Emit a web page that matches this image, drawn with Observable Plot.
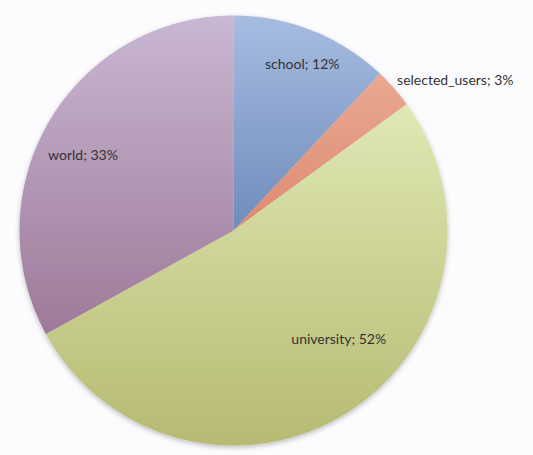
<!DOCTYPE html>
<html>
<head>
<meta charset="utf-8">
<script src="https://cdn.jsdelivr.net/npm/d3@7"></script>
<script src="https://cdn.jsdelivr.net/npm/@observablehq/plot@0.6"></script>
<style>
  html, body { margin: 0; padding: 0; background: #fcfcfe; }
  #chart svg { display: block; background: #fcfcfe; }
</style>
</head>
<body>
<div id="chart"></div>
<script>
// Data
const categories = ["school", "selected_users", "university", "world"];
const percents = [12, 3, 52, 33];
const labels = ["school; 12%", "selected_users; 3%", "university; 52%", "world; 33%"];

// Gradient colours (top -> bottom) per slice
const gradTop = ["#a7bce1", "#eaa892", "#e0e8b4", "#c9b7d3"];
const gradBottom = ["#6f8cbb", "#dd8a70", "#b6ba72", "#9d7a98"];

const pie = d3.pie().sort(null).value(d => d.value).startAngle(0).endAngle(2 * Math.PI);
const arcs = pie(categories.map((c, i) => ({category: c, value: percents[i], label: labels[i]})));

// polygon vertices for each slice, in unit-circle data space (y up)
const pts = [];
for (const a of arcs) {
  const c = a.data.category;
  pts.push({category: c, x: 0, y: 0});
  const n = Math.max(2, Math.ceil((a.endAngle - a.startAngle) / (Math.PI / 360)));
  for (let k = 0; k <= n; k++) {
    const t = a.startAngle + (a.endAngle - a.startAngle) * k / n;
    pts.push({category: c, x: Math.sin(t), y: Math.cos(t)});
  }
}

// label anchors at the slice mid-angle
function labelPos(a, r) {
  const m = (a.startAngle + a.endAngle) / 2;
  return {label: a.data.label, category: a.data.category, x: r * Math.sin(m), y: r * Math.cos(m)};
}
const lab = {};
for (const a of arcs) lab[a.data.category] = a;

const textStyle = {fontFamily: "Lato, 'Open Sans', sans-serif", fontSize: 14, fill: "#333333"};

const chart = Plot.plot({
  width: 533,
  height: 455,
  marginLeft: 19,
  marginRight: 86,
  marginTop: 15,
  marginBottom: 10,
  x: {domain: [-1, 1], axis: null},
  y: {domain: [-1, 1], axis: null},
  color: {type: "ordinal", domain: categories, range: categories.map((c, i) => `url(#grad-${i})`)},
  style: {background: "#fcfcfe"},
  marks: [
    Plot.line(pts, {x: "x", y: "y", z: "category", fill: "category", stroke: "none", curve: "linear"}),
    Plot.text([labelPos(lab.school, 0.835)], {x: "x", y: "y", text: "label", dx: 3, dy: 1, ...textStyle}),
    Plot.text([labelPos(lab.world, 0.79)], {x: "x", y: "y", text: "label", dx: -5, dy: 11, ...textStyle}),
    Plot.text([labelPos(lab.university, 0.7)], {x: "x", y: "y", text: "label", dx: 25, dy: -18, ...textStyle}),
    Plot.text([labelPos(lab.selected_users, 1.1)], {x: "x", y: "y", text: "label", textAnchor: "start", dx: -13, dy: 6, ...textStyle})
  ]
});

// gradients + soft shadow
const svg = d3.select(chart);
const defs = svg.insert("defs", ":first-child");
categories.forEach((c, i) => {
  const g = defs.append("linearGradient").attr("id", `grad-${i}`)
    .attr("x1", 0).attr("y1", 0).attr("x2", 0).attr("y2", 1);
  g.append("stop").attr("offset", "0%").attr("stop-color", gradTop[i]);
  g.append("stop").attr("offset", "100%").attr("stop-color", gradBottom[i]);
});
const f = defs.append("filter").attr("id", "pieShadow").attr("x", "-10%").attr("y", "-10%").attr("width", "120%").attr("height", "120%");
f.append("feDropShadow").attr("dx", 0).attr("dy", 2).attr("stdDeviation", 2.5)
  .attr("flood-color", "#000").attr("flood-opacity", 0.25);
svg.select('g[aria-label="line"]').attr("filter", "url(#pieShadow)");

document.getElementById("chart").appendChild(chart);
</script>
</body>
</html>
